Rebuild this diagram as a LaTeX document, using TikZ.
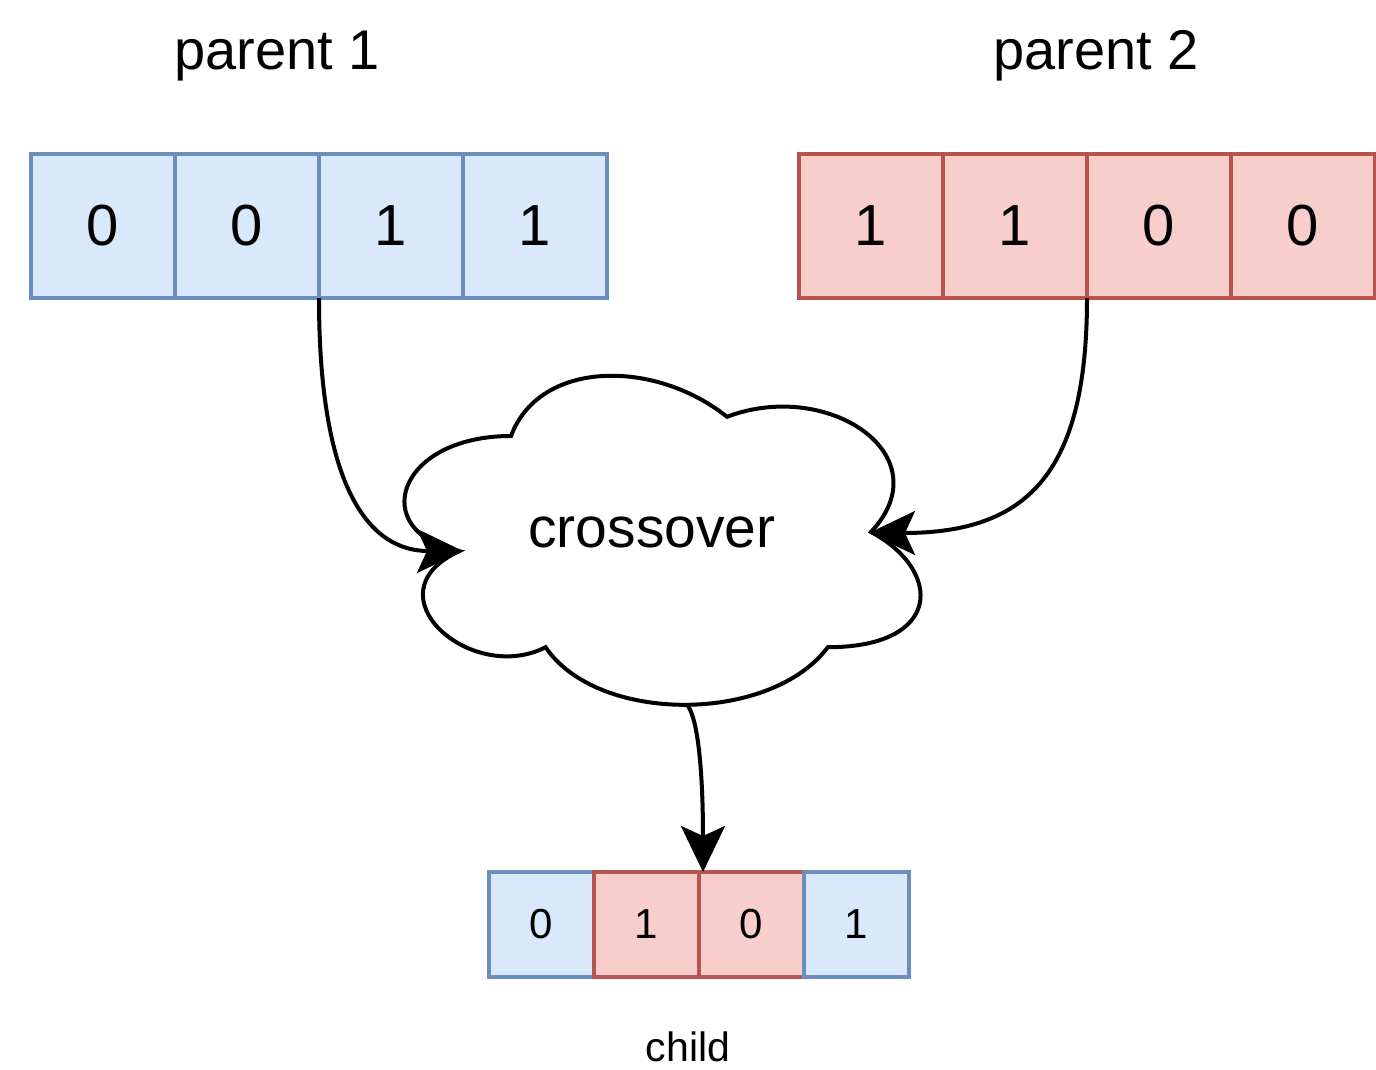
\documentclass[tikz,border=0pt]{standalone}
\usepackage{fontspec}
\setmainfont{Liberation Sans}
\usetikzlibrary{arrows.meta}

\definecolor{blueFill}{HTML}{DAE8FC}
\definecolor{blueLine}{HTML}{6C8EBF}
\definecolor{redFill}{HTML}{F8CECC}
\definecolor{redLine}{HTML}{B85450}

\tikzset{
  bigcell/.style={draw, line width=1.6pt, minimum width=72pt, minimum height=72pt,
    inner sep=0pt, outer sep=0pt, font=\fontsize{29}{29}\selectfont},
  smallcell/.style={draw, line width=1.6pt, minimum width=52.5pt, minimum height=52.5pt,
    inner sep=0pt, outer sep=0pt, font=\fontsize{21}{21}\selectfont},
  bluecell/.style={fill=blueFill, draw=blueLine},
  redcell/.style={fill=redFill, draw=redLine},
  title/.style={font=\fontsize{28}{28}\selectfont, inner sep=0pt},
  flow/.style={line width=2pt, -{Stealth[length=23pt, width=22pt, inset=5pt]}},
}

\begin{document}
\begin{tikzpicture}[x=0.5pt, y=-0.5pt]
  \useasboundingbox (0,0) rectangle (1376,1070);

  % parent 1
  \node[bigcell, bluecell] (a1) at (103,226) {0};
  \node[bigcell, bluecell] (a2) at (247,226) {0};
  \node[bigcell, bluecell] (a3) at (391,226) {1};
  \node[bigcell, bluecell] (a4) at (535,226) {1};
  \node[title] (t1) at (277,56) {parent 1};

  % parent 2
  \node[bigcell, redcell] (b1) at (871,226) {1};
  \node[bigcell, redcell] (b2) at (1015,226) {1};
  \node[bigcell, redcell] (b3) at (1159,226) {0};
  \node[bigcell, redcell] (b4) at (1303,226) {0};
  \node[title] (t2) at (1096,56) {parent 2};

  % child
  \node[smallcell, bluecell] (c1) at (541.5,924.5) {0};
  \node[smallcell, redcell]  (c2) at (646.5,924.5) {1};
  \node[smallcell, redcell]  (c3) at (751.5,924.5) {0};
  \node[smallcell, bluecell] (c4) at (856.5,924.5) {1};
  \node[font=\fontsize{20.5}{20.5}\selectfont, inner sep=0pt] (tc) at (688,1047) {child};

  % crossover cloud
  \draw[line width=2pt, fill=white]
    (511,436) .. controls (395.8,436) and (367,532) .. (459.2,551.2)
    .. controls (367,593.4) and (470.7,685.6) .. (545.6,647.2)
    .. controls (597.4,724) and (770.2,724) .. (827.8,647.2)
    .. controls (943,647.2) and (943,570.4) .. (871,532)
    .. controls (943,455.2) and (827.8,378.4) .. (727,416.8)
    .. controls (655,359.2) and (539.8,359.2) .. (511,436) -- cycle;
  \node[font=\fontsize{28.5}{28.5}\selectfont, inner sep=0pt] (cx) at (652,532) {crossover};
  \coordinate (inL) at (463,551);
  \coordinate (inR) at (869,533);
  \coordinate (outB) at (688,706);

  % connectors
  \draw[flow] (a2.south east) .. controls (319,490) and (370,551) .. (inL);
  \draw[flow] (b2.south east) .. controls (1087,470) and (1030,533) .. (inR);
  \draw[flow] (outB) .. controls (699,722) and (703,780) .. ([xshift=2pt]c2.north east);
\end{tikzpicture}
\end{document}
